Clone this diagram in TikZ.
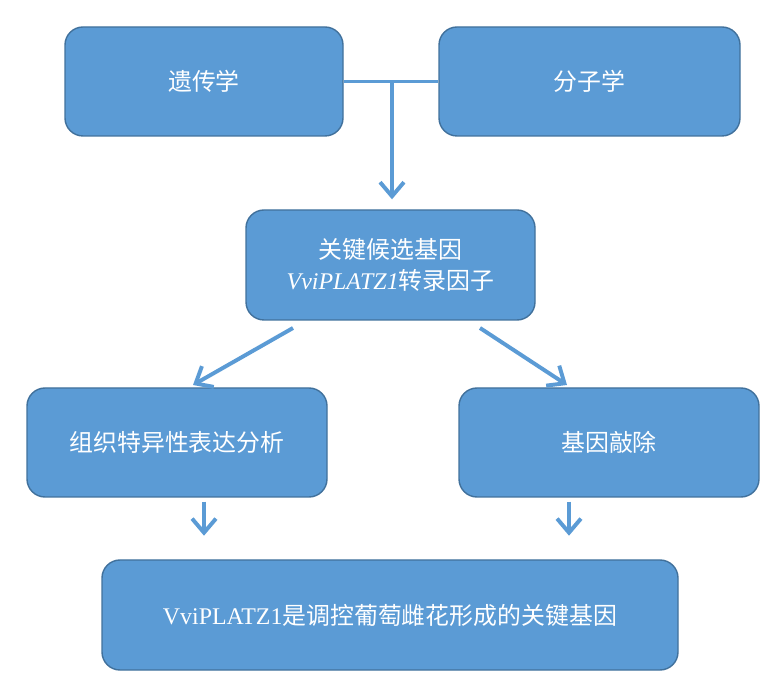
\documentclass[tikz,border=0pt]{standalone}
\usepackage{fontspec}
\setmainfont{Liberation Serif}
\newfontfamily\cjk{Noto Sans CJK SC}
\usetikzlibrary{arrows.meta}
\definecolor{boxfill}{HTML}{5B9BD5}
\definecolor{boxline}{HTML}{41719C}
\tikzset{
	box/.style={draw=boxline, line width=1pt, fill=boxfill, rounded corners=0.45cm,
		minimum height=2.725cm, text=white, align=center, font=\fontsize{17}{22.5}\selectfont\cjk},
	link/.style={draw=boxfill, line width=2.8pt},
	arr/.style={link, -{Straight Barb[length=10pt,width=17pt]}}
}
\begin{document}
\begin{tikzpicture}
			\useasboundingbox (0,0) rectangle (19.525,17.325);
			% top row
			\node[box, minimum width=6.95cm] (gen) at (5.1,15.2875) {遗传学};
			\node[box, minimum width=7.525cm] (mol) at (14.7375,15.2875) {分子学};
			% candidate gene
			\node[box, minimum width=7.225cm, minimum height=2.75cm] (cand) at (9.7625,10.7)
				{关键候选基因\\{\rmfamily\itshape VviPLATZ1}转录因子};
			% second row
			\node[box, minimum width=7.5cm] (expr) at (4.425,6.2625) {组织特异性表达分析};
			\node[box, minimum width=7.5cm] (ko) at (15.225,6.2625) {基因敲除};
			% conclusion
			\node[box, minimum width=14.4cm, minimum height=2.75cm] (res) at (9.75,1.95)
				{{\rmfamily VviPLATZ1}是调控葡萄雌花形成的关键基因};
			% connectors
			\draw[link] (gen.east) -- (mol.west);
			\coordinate (j) at (9.8,15.2875);
			\draw[arr] (j) -- ([yshift=0.25cm]cand.north -| j);
			\coordinate (c1) at (7.325,9.125);
			\coordinate (c2) at (12.0,9.125);
			\draw[arr] (c1) -- (4.825,7.7);
			\draw[arr] (c2) -- (14.175,7.7);
			\draw[arr] ([yshift=-0.1cm]expr.south -| 5.1,0) -- ++(0,-0.85);
			\draw[arr] ([yshift=-0.1cm]ko.south -| 14.225,0) -- ++(0,-0.85);
		\end{tikzpicture}
\end{document}
